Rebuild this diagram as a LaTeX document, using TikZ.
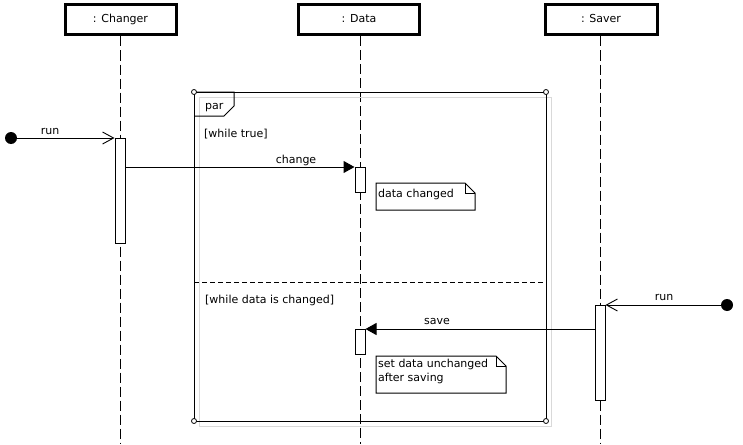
\documentclass[tikz,border=0pt]{standalone}
\usepackage{fontspec}
\setmainfont{DejaVu Sans}
\usetikzlibrary{arrows.meta,calc}
\begin{document}
\begin{tikzpicture}[x=1pt,y=-1pt,
  every node/.style={font=\fontsize{11}{13}\selectfont},
  actor/.style={draw,line width=3pt,minimum height=30pt,inner sep=0pt,fill=white},
  lifeline/.style={line width=0.9pt,dash pattern=on 10pt off 4pt},
  activation/.style={draw,line width=1pt,fill=white,minimum width=10pt,inner sep=0pt,anchor=north},
  msg/.style={line width=1pt},
  sync/.style={msg,-{Triangle[length=11pt,width=12pt]}},
  found/.style={msg,-{Straight Barb[length=11pt,width=12pt,line width=0.9pt]}},
  startdot/.style={circle,fill=black,minimum size=12pt,inner sep=0pt},
  corner/.style={circle,draw,fill=white,line width=0.8pt,minimum size=5pt,inner sep=0pt},
  txt/.style={inner sep=0pt,anchor=base west},
  ctxt/.style={inner sep=0pt,anchor=base},
  note/.style={line width=1pt}
]
\useasboundingbox (0,0) rectangle (743,444);
\fill[white] (0,0) rectangle (743,444);

% actors
\node[actor,minimum width=111pt] (changer) at (120.5,20) {\raisebox{3pt}{: Changer}};
\node[actor,minimum width=121pt] (data) at (359,19.5) {\raisebox{3pt}{: Data}};
\node[actor,minimum width=112pt] (saver) at (601,20) {\raisebox{3pt}{: Saver}};

\coordinate (cend) at (120,444);
\coordinate (dend) at (360,444);
\coordinate (send) at (600,444);
\draw[lifeline] (changer.south -| cend) -- (cend);
\draw[lifeline] (data.south -| dend) -- (dend);
\draw[lifeline] (saver.south -| send) -- (send);

% par frame
\draw[gray!30,line width=1pt] (199,97) rectangle (551,426);
\coordinate (ftl) at (194,92);
\coordinate (ftr) at (546,92);
\coordinate (fbl) at (194,421);
\coordinate (fbr) at (546,421);
\draw[line width=1pt] (ftl) -- (ftr) -- (fbr) -- (fbl) -- cycle;
\draw[line width=1pt] (ftl) -- (234,92) -- (234,106) -- (224,116) -- (194,116);
\node[txt] (parlbl) at (205,109) {par};
\draw[line width=0.9pt,dash pattern=on 5pt off 3pt] (194,282) -- (546,282);
\node[corner] (c1) at (ftl) {};
\node[corner] (c2) at (ftr) {};
\node[corner] (c3) at (fbl) {};
\node[corner] (c4) at (fbr) {};
\node[txt] (g1) at (204,137) {[while true]};
\node[txt] (g2) at (205,303) {[while data is changed]};

% activations
\node[activation,minimum height=105pt] (a1) at (120,138) {};
\node[activation,minimum height=25pt] (d1) at (360,167) {};
\node[activation,minimum height=25pt] (d2) at (360,329) {};
\node[activation,minimum height=95pt] (s1) at (600,305) {};

% found messages
\node[startdot] (dot1) at (11,138) {};
\node[startdot] (dot2) at (727,305) {};
\draw[found] (dot1.center) -- (a1.north west);
\node[ctxt] (run1) at (50,134) {run};
\draw[found] (dot2.center) -- (s1.north east);
\node[ctxt] (run2) at (664,300) {run};

% change
\draw[sync] (a1.east |- d1.north west) -- (d1.north west);
\node[ctxt] (chg) at (296,163) {change};
% save
\draw[sync] (s1.west |- d2.north east) -- (d2.north east);
\node[ctxt] (sv) at (437,324) {save};

% notes
\coordinate (n1a) at (376,183);
\coordinate (n1b) at (475,210);
\draw[note] (n1a) -- (465,183) -- (475,193) -- (n1b -| 475,0) -- (376,210) -- cycle;
\draw[note] (465,183) -- (465,193) -- (475,193);
\node[txt] (n1t) at (378,197) {data changed};

\coordinate (n2a) at (376,356);
\draw[note] (n2a) -- (496,356) -- (506,366) -- (506,393) -- (376,393) -- cycle;
\draw[note] (496,356) -- (496,366) -- (506,366);
\node[txt] (n2t) at (378,367) {set data unchanged};
\node[txt] (n2u) at (378,381) {after saving};
\end{tikzpicture}
\end{document}
